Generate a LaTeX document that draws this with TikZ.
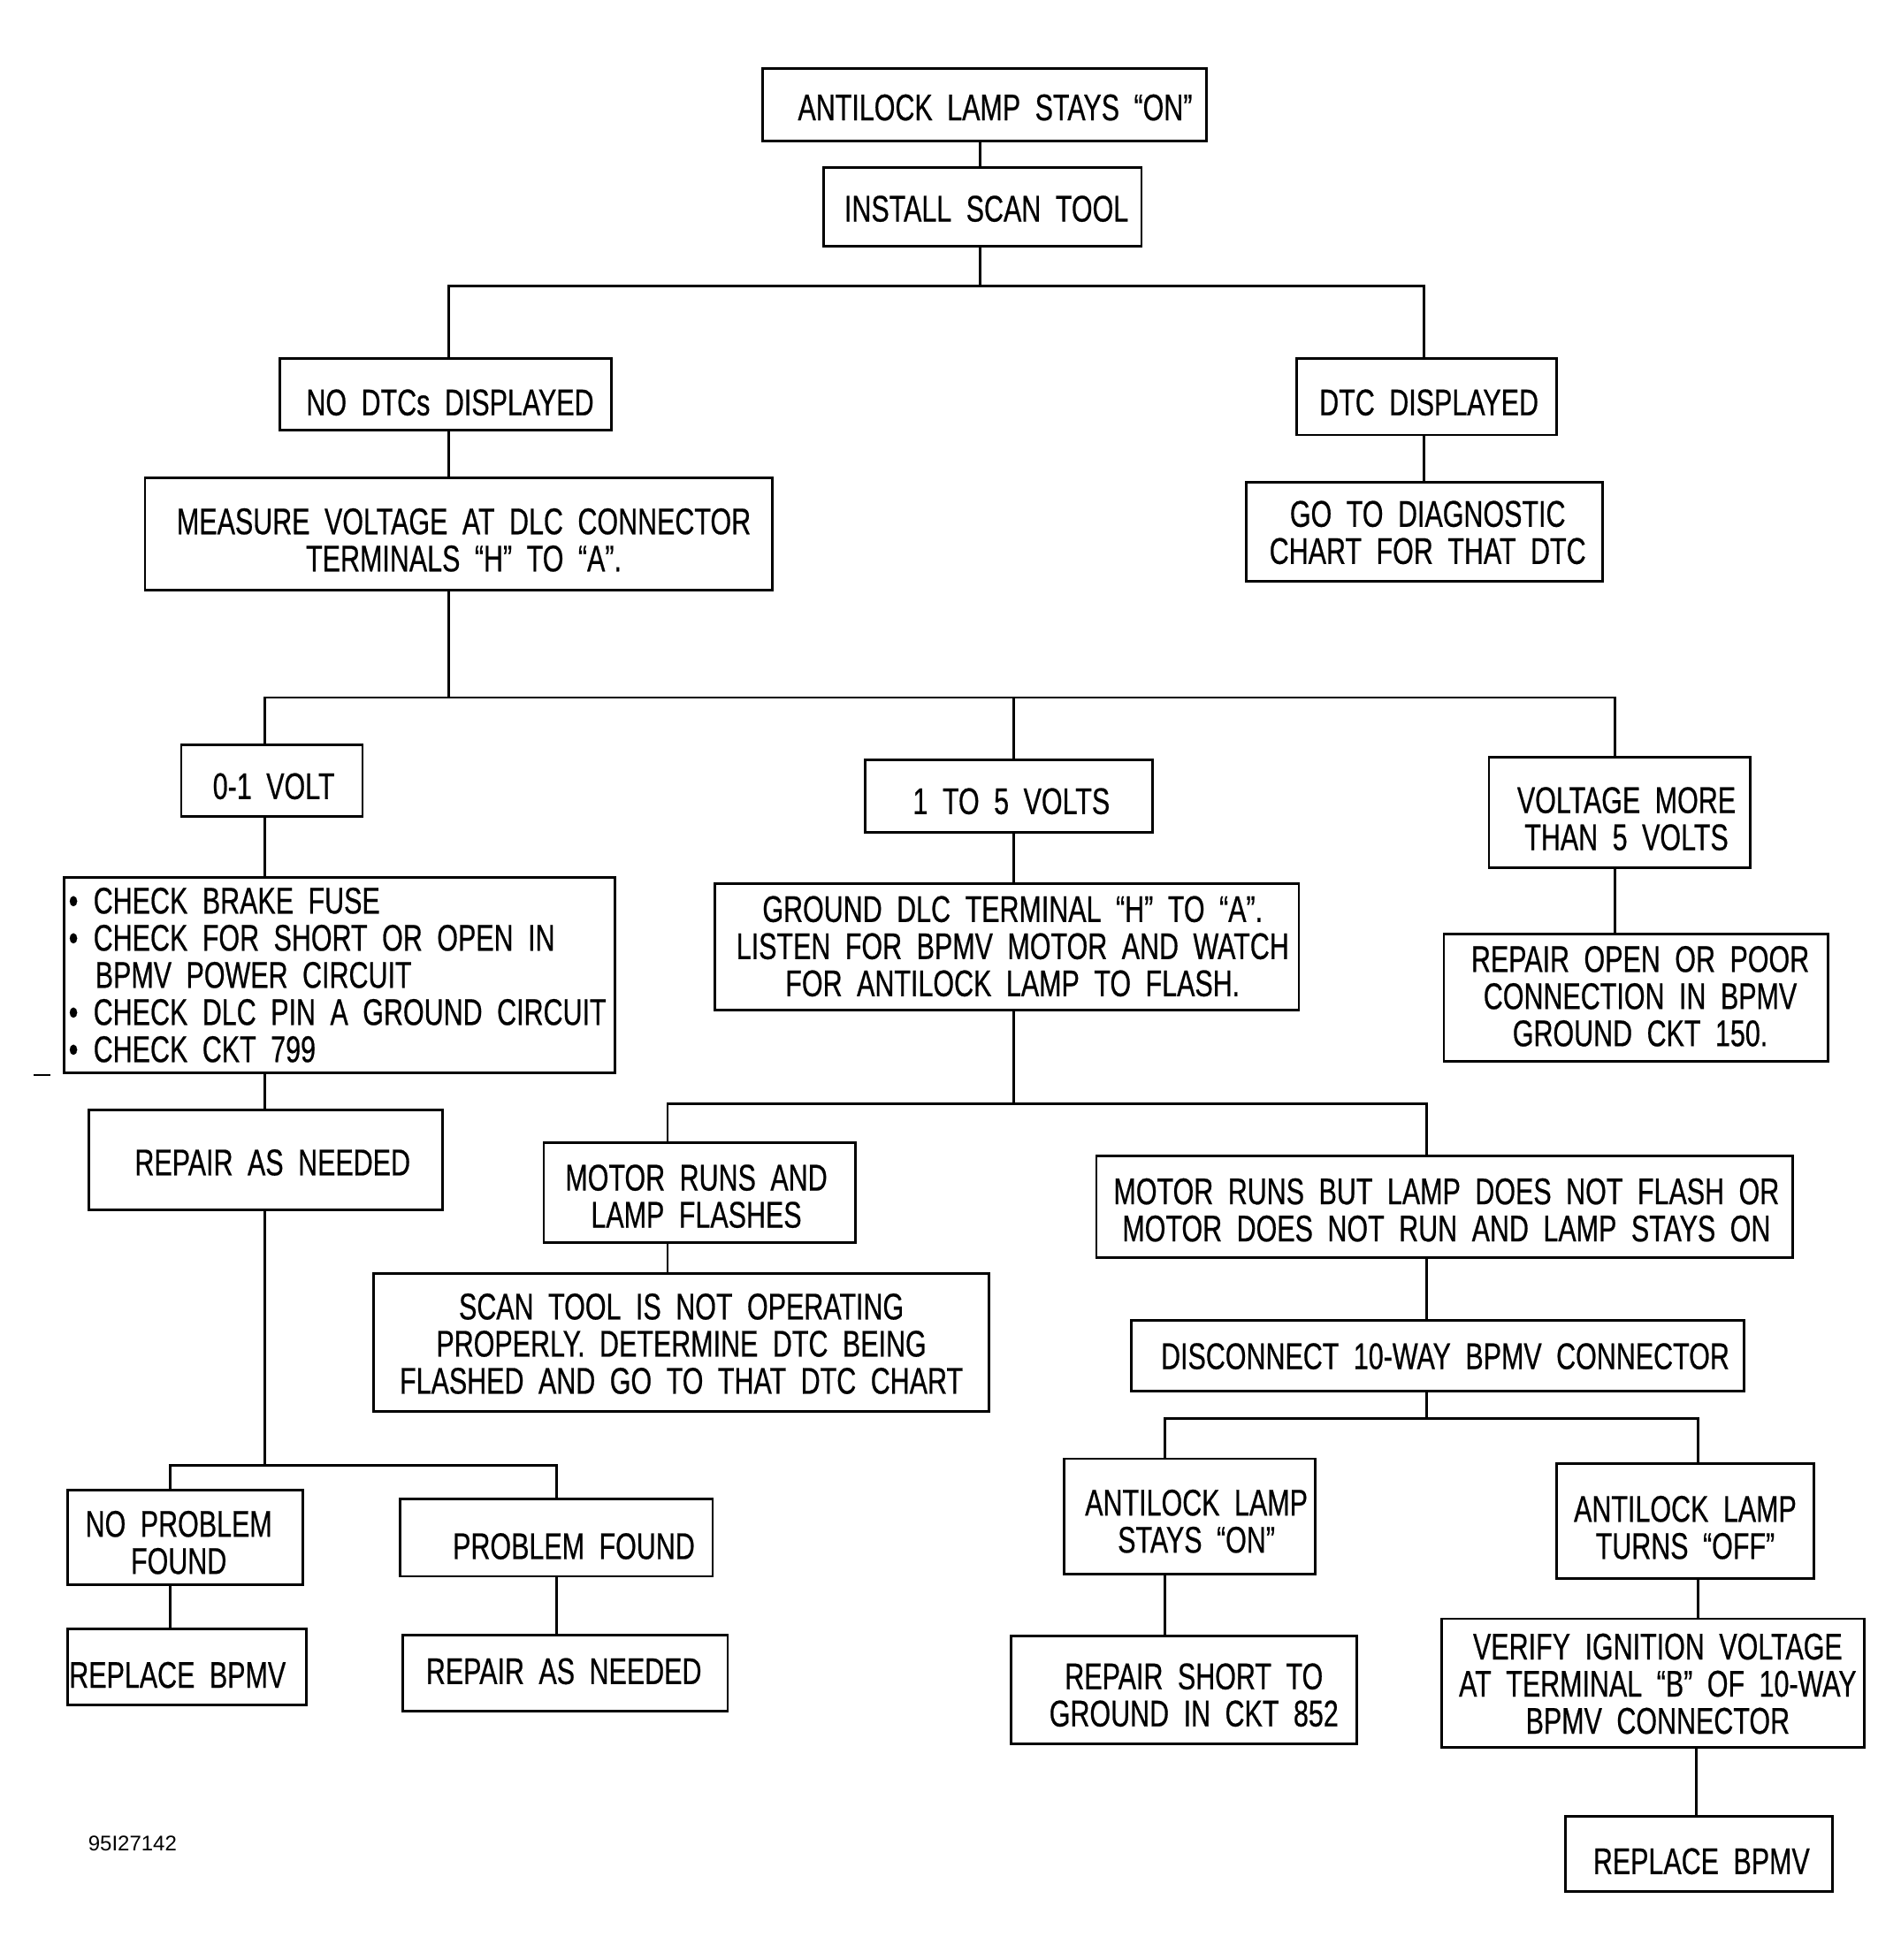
\documentclass[tikz,border=0pt]{standalone}
\usepackage{fontspec}
\setmainfont[FakeStretch=0.725,WordSpace=1.95,FakeBold=0.5]{Liberation Sans}
\newfontfamily\labelfont{Liberation Sans}
\newcommand\flowbox[9][]{%
  \node[box, minimum width={(#5-(#3))*0.7069pt}, minimum height={(#6-(#4))*0.7069pt}] (#2) at ({(#3+#5)/2},{(#4+#6)/2}) {};
  \node[txt,#1] (#2t) at (#7,#8) {#9};}
\newcommand\bul{\makebox[14pt][l]{•}}
\begin{document}
\begin{tikzpicture}[x=0.7069pt,y=-0.7069pt,line width=1.4pt,
  box/.style={draw,line width=1.4pt,inner sep=0pt},
  txt/.style={font=\fontsize{21}{21}\selectfont,align=center,inner sep=0pt}]
\useasboundingbox (0,0) rectangle (1520,1568);
\fill[white] (0,0) rectangle (1520,1568);

% boxes: name, left, top, right, bottom, text x, text y, text
\flowbox{n1}{610}{55}{965}{113}{796}{86}{ANTILOCK LAMP STAYS “ON”}
\flowbox{n2}{659}{134}{913}{197}{789}{167}{INSTALL SCAN TOOL}
\flowbox{n3}{224}{287}{489}{344}{360}{322}{NO DTCs DISPLAYED}
\flowbox{n4}{1037}{287}{1245}{348}{1143}{322}{DTC DISPLAYED}
\flowbox{n5}{116}{382}{618}{472}{371}{432}{MEASURE VOLTAGE AT DLC CONNECTOR\\TERMINALS “H” TO “A”.}
\flowbox{n6}{997}{386}{1282}{465}{1142}{426}{GO TO DIAGNOSTIC\\CHART FOR THAT DTC}
\flowbox{n7}{145}{596}{290}{653}{219}{629}{0-1 VOLT}
\flowbox{n8}{692}{608}{922}{666}{809}{641}{1 TO 5 VOLTS}
\flowbox{n9}{1191}{606}{1400}{694}{1301}{655}{VOLTAGE MORE\\THAN 5 VOLTS}
\flowbox[anchor=west,align=left]{n10}{51}{702}{492}{858}{54}{780}{\bul CHECK BRAKE FUSE\\\bul CHECK FOR SHORT OR OPEN IN\\\makebox[15pt]{}BPMV POWER CIRCUIT\\\bul CHECK DLC PIN A GROUND CIRCUIT\\\bul CHECK CKT 799}
\flowbox{n11}{71}{888}{354}{968}{218}{930}{REPAIR AS NEEDED}
\flowbox{n12}{54}{1192}{242}{1268}{143}{1234}{NO PROBLEM\\FOUND}
\flowbox{n13}{320}{1199}{570}{1261}{459}{1237}{PROBLEM FOUND}
\flowbox{n14}{54}{1303}{245}{1364}{142}{1340}{REPLACE BPMV}
\flowbox{n15}{322}{1308}{582}{1369}{451}{1337}{REPAIR AS NEEDED}
\flowbox{n16}{572}{707}{1039}{808}{810}{757}{GROUND DLC TERMINAL “H” TO “A”.\\LISTEN FOR BPMV MOTOR AND WATCH\\FOR ANTILOCK LAMP TO FLASH.}
\flowbox{n17}{435}{914}{684}{994}{557}{957}{MOTOR RUNS AND\\LAMP FLASHES}
\flowbox{n18}{299}{1019}{791}{1129}{545}{1075}{SCAN TOOL IS NOT OPERATING\\PROPERLY. DETERMINE DTC BEING\\FLASHED AND GO TO THAT DTC CHART}
\flowbox{n19}{877}{925}{1434}{1006}{1157}{968}{MOTOR RUNS BUT LAMP DOES NOT FLASH OR\\MOTOR DOES NOT RUN AND LAMP STAYS ON}
\flowbox{n20}{905}{1056}{1395}{1113}{1156}{1085}{DISCONNECT 10-WAY BPMV CONNECTOR}
\flowbox{n21}{851}{1167}{1052}{1259}{957}{1217}{ANTILOCK LAMP\\STAYS “ON”}
\flowbox{n22}{1245}{1171}{1451}{1263}{1348}{1222}{ANTILOCK LAMP\\TURNS “OFF”}
\flowbox{n23}{809}{1309}{1085}{1395}{955}{1356}{REPAIR SHORT TO\\GROUND IN CKT 852}
\flowbox{n24}{1153}{1295}{1491}{1398}{1326}{1347}{VERIFY IGNITION VOLTAGE\\AT TERMINAL “B” OF 10-WAY\\BPMV CONNECTOR}
\flowbox{n25}{1252}{1453}{1466}{1513}{1361}{1489}{REPLACE BPMV}
\flowbox{n26}{1155}{747}{1462}{849}{1312}{797}{REPAIR OPEN OR POOR\\CONNECTION IN BPMV\\GROUND CKT 150.}

\node[inner sep=0pt,font=\labelfont\fontsize{12}{12}\selectfont] (code) at (106,1475) {95I27142};

% bus coordinates
\coordinate (b1L) at (359,229); \coordinate (b1M) at (784,229); \coordinate (b1R) at (1139,229);
\coordinate (b2L) at (212,558); \coordinate (b2S) at (359,558); \coordinate (b2M) at (811,558); \coordinate (b2R) at (1292,558);
\coordinate (b3L) at (136,1172); \coordinate (b3S) at (212,1172); \coordinate (b3R) at (445,1172);
\coordinate (b4L) at (534,883); \coordinate (b4S) at (811,883); \coordinate (b4R) at (1141,883);
\coordinate (b5L) at (932,1135); \coordinate (b5S) at (1141,1135); \coordinate (b5R) at (1358,1135);
\coordinate (c24) at (1357,1400);

% connectors
\draw (n1.south -| b1M) -- (n2.north -| b1M);
\draw (n2.south -| b1M) -- (b1M);
\draw (n3.north -| b1L) -- (b1L) -- (b1R) -- (n4.north -| b1R);
\draw (n3.south -| b1L) -- (n5.north -| b1L);
\draw (n4.south -| b1R) -- (n6.north -| b1R);
\draw (n5.south -| b2S) -- (b2S);
\draw (n7.north -| b2L) -- (b2L) -- (b2R) -- (n9.north -| b2R);
\draw (b2M) -- (n8.north -| b2M);
\draw (n7.south -| b2L) -- (n10.north -| b2L);
\draw (n10.south -| b2L) -- (n11.north -| b2L);
\draw (n11.south -| b3S) -- (b3S);
\draw (n12.north -| b3L) -- (b3L) -- (b3R) -- (n13.north -| b3R);
\draw (n12.south -| b3L) -- (n14.north -| b3L);
\draw (n13.south -| b3R) -- (n15.north -| b3R);
\draw (n8.south -| b2M) -- (n16.north -| b2M);
\draw (n16.south -| b4S) -- (b4S);
\draw (n17.north -| b4L) -- (b4L) -- (b4R) -- (n19.north -| b4R);
\draw (n17.south -| b4L) -- (n18.north -| b4L);
\draw (n19.south -| b4R) -- (n20.north -| b4R);
\draw (n20.south -| b5S) -- (b5S);
\draw (n21.north -| b5L) -- (b5L) -- (b5R) -- (n22.north -| b5R);
\draw (n21.south -| b5L) -- (n23.north -| b5L);
\draw (n22.south -| b5R) -- (n24.north -| b5R);
\draw (n24.south -| c24) -- (n25.north -| c24);
\draw (n9.south -| b2R) -- (n26.north -| b2R);

% stray mark at left
\coordinate (m1) at (27,860); \coordinate (m2) at (40,860);
\draw[line width=0.8pt] (m1) -- (m2);
\end{tikzpicture}
\end{document}
